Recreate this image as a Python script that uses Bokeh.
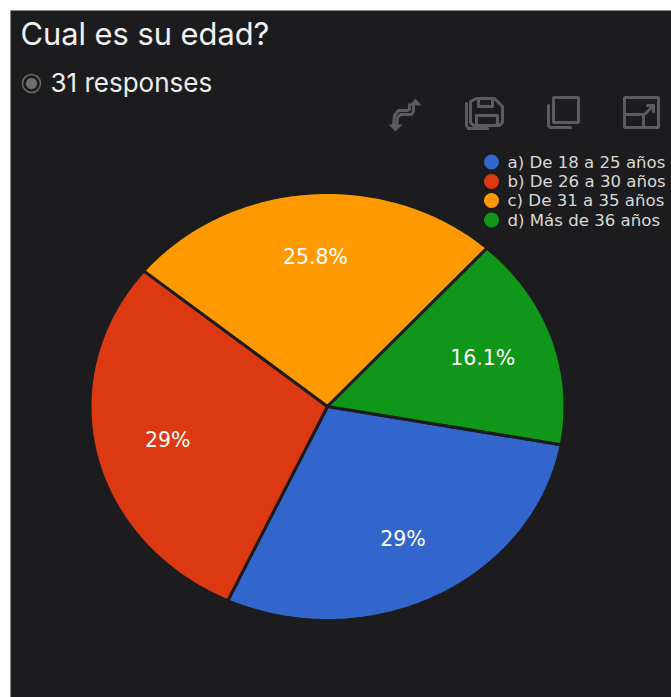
import numpy as np
from bokeh.plotting import figure
from bokeh.embed import file_html
from bokeh.resources import INLINE
from bokeh.core.properties import value

# Survey answers
title = "Cual es su edad?"
responses_label = "31 responses"
categories = ["a) De 18 a 25 años", "b) De 26 a 30 años", "c) De 31 a 35 años", "d) Más de 36 años"]
counts = [9, 9, 8, 5]
pct_labels = ["29%", "29%", "25.8%", "16.1%"]
colors = ["#3366cc", "#dc3912", "#ff9900", "#109618"]

PANEL = "#1c1c1e"
TEXT = "#ececec"
ICON = "#5c5c5e"
FONT = value("Inter")
WIDE_FONT = value("DejaVu Sans")

W, H = 671, 697
CX, CY, RX, RY = 327, 406, 237.5, 214
START_DEG = 10.3   # first slice begins just below east, running clockwise

p = figure(width=W, height=H, x_range=(0, W), y_range=(H, 0), output_backend="svg",
           toolbar_location=None, min_border=0, background_fill_color="white",
           border_fill_color="white", outline_line_color=None)
p.axis.visible = False
p.grid.visible = False

p.quad(left=10, right=W, top=10, bottom=H, fill_color=PANEL, line_color=None)
p.segment(x0=10, y0=10, x1=10, y1=H, line_color="#8a8a8a", line_width=1)
p.segment(x0=10, y0=10, x1=W, y1=10, line_color="#8a8a8a", line_width=1)

p.text(x=[20], y=[33], text=[title], text_font=FONT, text_font_size="30.8px",
       text_color="#f2f2f2", text_baseline="middle")
p.text(x=[50], y=[82], text=[responses_label], text_font=FONT, text_font_size="26px",
       text_color=TEXT, text_baseline="middle")
p.scatter(x=[31], y=[83], size=18, fill_color=None, line_color="#6a6a6a", line_width=1.5)
p.scatter(x=[31], y=[83], size=11, fill_color="#6f6f6f", line_color=None)

# Pie slices on a stretched ellipse
fractions = np.array(counts) / sum(counts)
edges = np.radians(START_DEG + 360 * np.concatenate([[0], np.cumsum(fractions)]))
for a0, a1, color in zip(edges[:-1], edges[1:], colors):
    t = np.linspace(a0, a1, 120)
    xs = np.concatenate([[CX], CX + RX * np.cos(t)])
    ys = np.concatenate([[CY], CY + RY * np.sin(t)])
    p.patch(xs, ys, fill_color=color, line_color=PANEL, line_width=3)

# Percentage labels at about 70% of the radius
mids = (edges[:-1] + edges[1:]) / 2
p.text(x=CX + 0.69 * RX * np.cos(mids), y=CY + 0.70 * RY * np.sin(mids), text=pct_labels,
       text_font=WIDE_FONT, text_font_size="20.5px", text_color="white",
       text_align="center", text_baseline="middle")

# Legend
legend_y = [161.5, 181, 200, 219.5]
p.scatter(x=[491] * 4, y=legend_y, size=15, fill_color=colors, line_color=None)
p.text(x=[507] * 4, y=legend_y, text=categories, text_font=WIDE_FONT,
       text_font_size="16.6px", text_color="#d8d8d8", text_baseline="middle")

# Chart action icons
ic = dict(line_color=ICON, line_width=3, line_cap="round", line_join="round")
box = dict(line_color=ICON, line_width=3, fill_color=None)
# switch arrows
p.line([413, 413, 411, 400, 397, 396], [103, 111, 114, 114, 117, 126], **ic)
p.line([409, 409, 407, 398, 394, 393], [104, 109, 110, 110, 115, 125], **ic)
p.patch([409, 415, 421], [105, 98, 105], fill_color=ICON, line_color=None)
p.patch([388, 395, 402], [124, 131, 124], fill_color=ICON, line_color=None)
# save
p.line([476, 494, 502, 502, 499, 473, 470, 470, 476], [98, 98, 106, 122, 125, 125, 122, 101, 98], **ic)
p.line([478, 478, 492, 492], [98, 106, 106, 98], **ic)
p.line([476, 476, 497, 497], [125, 115, 115, 125], **ic)
p.line([466, 466, 468, 487], [103, 125, 128, 128], **ic)
# copy
p.quad(left=553, right=578, top=97, bottom=122, **box)
p.line([548, 548, 550, 570], [105, 125, 127, 127], **ic)
# expand
p.quad(left=624, right=658, top=97, bottom=127, **box)
p.line([625, 643, 643], [114, 114, 127], **ic)
p.line([647, 653, 653], [105, 105, 111], **ic)
p.line([653, 645], [105, 113], **ic)

open("out.html", "w").write(file_html(p, INLINE))
